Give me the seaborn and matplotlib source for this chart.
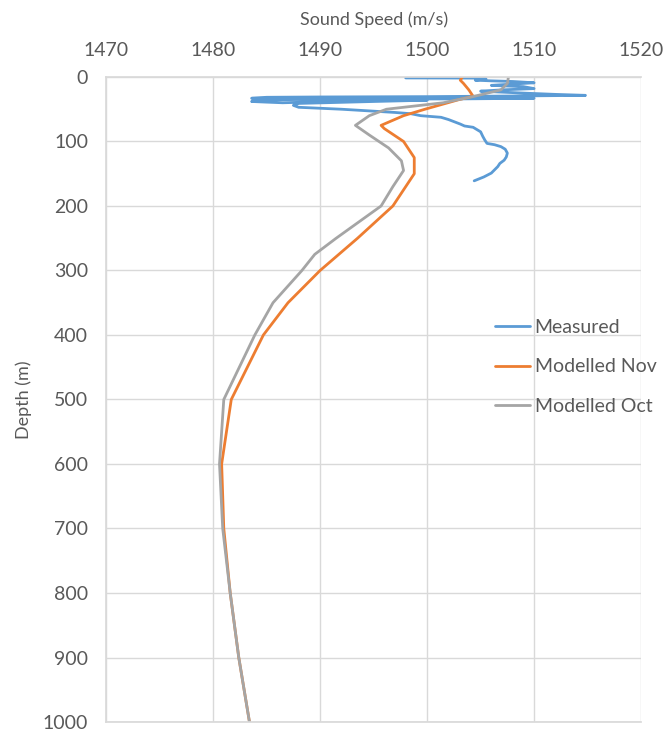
import pandas as pd
import numpy as np
import matplotlib
matplotlib.use("Agg")
import matplotlib.pyplot as plt
import seaborn as sns

# measured profile (speed m/s, depth m)
meas_speed = [1498.0, 1502.0, 1505.0, 1505.5, 1504.5, 1506.0, 1508.0, 1510.0, 1508.0, 1506.0,
              1509.0, 1510.0, 1507.0, 1505.0, 1509.0, 1512.0, 1514.8, 1508.0, 1500.0, 1490.0,
              1485.0, 1483.6, 1487.0, 1500.0, 1510.0, 1503.0, 1490.0, 1485.0, 1483.6, 1485.0,
              1486.5, 1494.0, 1500.0, 1495.0, 1488.0, 1487.5, 1488.0, 1492.0, 1495.0, 1497.0,
              1498.5, 1499.4, 1501.3, 1502.0, 1503.1, 1503.5, 1504.3, 1505.0, 1505.2, 1505.4,
              1505.6, 1506.3, 1506.9, 1507.3, 1507.5, 1507.4, 1507.2, 1506.8, 1506.6, 1506.3,
              1506.0, 1505.3, 1504.4]
meas_depth = [1.5, 1.6, 1.8, 3, 5, 6, 7, 9, 11, 13,
              15, 18, 20, 22, 25, 27, 28.5, 29.5, 30.5, 31,
              31.5, 33, 33.5, 32.5, 33, 34, 34.5, 35.5, 38, 39,
              40, 36.5, 36, 38, 41, 44, 47, 50, 53, 55,
              57, 60, 62.5, 66, 73, 76, 78, 85, 92, 98,
              103, 105, 108, 112, 118, 124, 129, 134, 139, 144,
              149, 155, 161]

nov_speed = [1503.3, 1503.1, 1503.4, 1503.9, 1504.3, 1503.0, 1499.8, 1497.8, 1495.7, 1496.0,
             1497.8, 1498.8, 1498.8, 1497.8, 1496.8, 1493.5, 1490.0, 1487.0, 1484.7, 1481.7,
             1480.8, 1481.0, 1481.6, 1482.4, 1483.4]
nov_depth = [0, 5, 10, 20, 30, 35, 50, 60, 75, 80,
             100, 125, 150, 175, 200, 250, 300, 350, 400, 500,
             600, 700, 800, 900, 1000]

oct_speed = [1507.6, 1507.5, 1506.9, 1504.4, 1501.5, 1496.2, 1494.6, 1493.3, 1494.6, 1496.4,
             1497.6, 1497.8, 1496.8, 1495.7, 1491.5, 1489.5, 1488.3, 1485.6, 1483.9, 1481.0,
             1480.6, 1480.9, 1481.6, 1482.4, 1483.4]
oct_depth = [0, 10, 20, 30, 40, 50, 60, 75, 90, 110,
             130, 145, 170, 200, 250, 275, 300, 350, 400, 500,
             600, 700, 800, 900, 1000]

series_names = ["Measured", "Modelled Nov", "Modelled Oct"]
colors = ["#5B9BD5", "#ED7D31", "#A5A5A5"]

df = pd.concat([
    pd.DataFrame({"speed": meas_speed, "depth": meas_depth, "series": series_names[0]}),
    pd.DataFrame({"speed": nov_speed, "depth": nov_depth, "series": series_names[1]}),
    pd.DataFrame({"speed": oct_speed, "depth": oct_depth, "series": series_names[2]}),
], ignore_index=True)

sns.set_theme(style="white")
plt.rcParams["font.family"] = ["Lato", "DejaVu Sans"]

fig = plt.figure(figsize=(6.63, 7.31), dpi=100)
ax = fig.add_axes([0.16, 0.0123, 0.807, 0.8824])

sns.lineplot(data=df, x="speed", y="depth", hue="series", palette=colors,
             sort=False, estimator=None, linewidth=2, ax=ax)

ax.set_xlim(1470, 1520)
ax.set_ylim(1000, 0)
ax.set_xticks(np.arange(1470, 1521, 10))
ax.set_yticks(np.arange(0, 1001, 100))
ax.xaxis.tick_top()
ax.xaxis.set_label_position("top")
ax.set_xlabel("Sound Speed (m/s)", fontsize=13, color="#595959", labelpad=12)
ax.set_ylabel("Depth (m)", fontsize=13, color="#595959", labelpad=8)
ax.tick_params(axis="x", labelsize=14, colors="#595959", length=0, pad=13)
ax.tick_params(axis="y", labelsize=14, colors="#595959", length=0, pad=13)
ax.grid(True, color="#D9D9D9", linewidth=1)
ax.spines["right"].set_visible(False)
for s in ["left", "top", "bottom"]:
    ax.spines[s].set_color("#D9D9D9")

leg = ax.legend(loc="center left", bbox_to_anchor=(0.72, 0.498), bbox_transform=fig.transFigure,
                frameon=False, fontsize=14, handlelength=1.8, handletextpad=0.25, labelspacing=1.15)
for t in leg.get_texts():
    t.set_color("#595959")

fig.savefig("out.png", dpi=100)
